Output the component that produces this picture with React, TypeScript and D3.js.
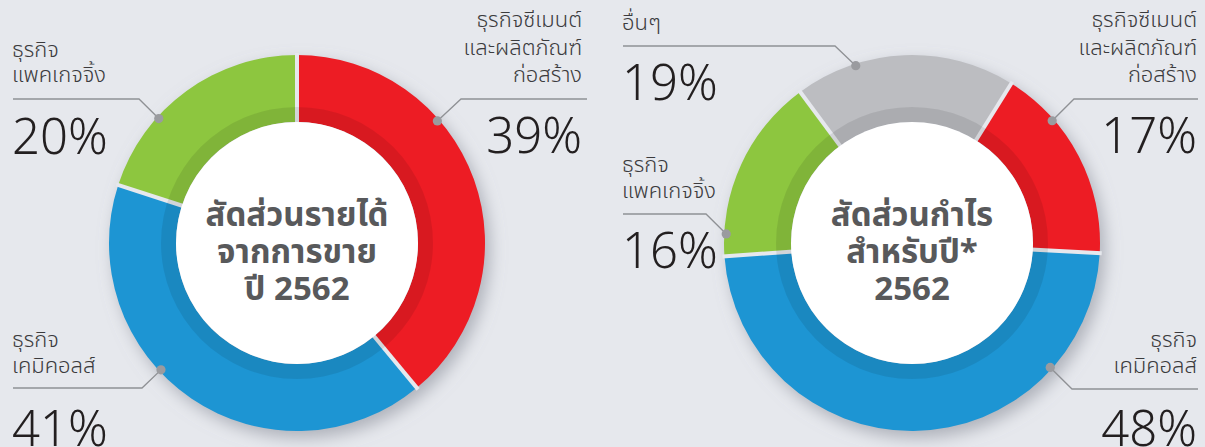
import React from 'react';
import * as d3 from 'd3';

// ---- data ----
const leftCategories = ['ธุรกิจซีเมนต์และผลิตภัณฑ์ก่อสร้าง', 'ธุรกิจเคมิคอลส์', 'ธุรกิจแพคเกจจิ้ง'];
const leftValues = [39, 41, 20];
const leftTitle = ['สัดส่วนรายได้', 'จากการขาย', 'ปี 2562'];

const rightCategories = ['อื่นๆ', 'ธุรกิจซีเมนต์และผลิตภัณฑ์ก่อสร้าง', 'ธุรกิจเคมิคอลส์', 'ธุรกิจแพคเกจจิ้ง'];
const rightValues = [19, 17, 48, 16];
const rightTitle = ['สัดส่วนกำไร', 'สำหรับปี*', '2562'];

const labelLines: Record<string, string[]> = {
  'ธุรกิจซีเมนต์และผลิตภัณฑ์ก่อสร้าง': ['ธุรกิจซีเมนต์', 'และผลิตภัณฑ์', 'ก่อสร้าง'],
  'ธุรกิจเคมิคอลส์': ['ธุรกิจ', 'เคมิคอลส์'],
  'ธุรกิจแพคเกจจิ้ง': ['ธุรกิจ', 'แพคเกจจิ้ง'],
  'อื่นๆ': ['อื่นๆ'],
};

const colorOf: Record<string, string> = {
  'ธุรกิจซีเมนต์และผลิตภัณฑ์ก่อสร้าง': '#ed1c24',
  'ธุรกิจเคมิคอลส์': '#1d95d3',
  'ธุรกิจแพคเกจจิ้ง': '#8dc63f',
  'อื่นๆ': '#bcbdc1',
};

// ---- layout ----
const W = 1205, H = 447;
const BG = '#e6e8ed';
const R_OUT = 188, R_BAND = 136, R_IN = 121;
const FONT = "'Noto Sans Thai', 'Noto Sans', 'DejaVu Sans', sans-serif";

type Ann = {
  dotAngle: number; // degrees clockwise from 12 o'clock
  elbow: [number, number];
  endX: number;
  anchor: 'start' | 'end';
  textX: number;
  baselines: number[];
  pctBaseline: number;
};

const leftAnn: Ann[] = [
  { dotAngle: 49, elbow: [461, 99], endX: 587, anchor: 'end', textX: 582, baselines: [27, 55, 82], pctBaseline: 153 },
  { dotAngle: 227, elbow: [142, 388], endX: 13, anchor: 'start', textX: 12, baselines: [347, 373], pctBaseline: 446 },
  { dotAngle: 312, elbow: [139, 99], endX: 13, anchor: 'start', textX: 12, baselines: [57, 82], pctBaseline: 154 },
];
const rightAnn: Ann[] = [
  { dotAngle: 342.4, elbow: [835, 46], endX: 623, anchor: 'start', textX: 622, baselines: [30], pctBaseline: 100 },
  { dotAngle: 48.9, elbow: [1074, 99], endX: 1198, anchor: 'end', textX: 1197, baselines: [27, 55, 82], pctBaseline: 153 },
  { dotAngle: 132, elbow: [1072, 389], endX: 1198, anchor: 'end', textX: 1197, baselines: [347, 373], pctBaseline: 446 },
  { dotAngle: 272.8, elbow: [706, 214], endX: 623, anchor: 'start', textX: 622, baselines: [172, 198], pctBaseline: 268 },
];

const rad = (d: number) => (d * Math.PI) / 180;

function Donut(props: {
  cx: number; cy: number; cats: string[]; vals: number[]; start: number; title: string[]; ann: Ann[];
}) {
  const { cx, cy, cats, vals, start, title, ann } = props;
  const pie = d3.pie<number>().sort(null).value((d) => d).startAngle(rad(start)).endAngle(rad(start + 360));
  const arcs = pie(vals);
  const arc = d3.arc<d3.PieArcDatum<number>>().innerRadius(R_IN).outerRadius(R_OUT);
  const band = d3.arc()({ innerRadius: R_IN, outerRadius: R_BAND, startAngle: 0, endAngle: Math.PI * 2 }) as string;
  return (
    <g>
      <g transform={`translate(${cx},${cy})`}>
        <circle r={R_OUT} fill="#c9ccd3" filter={`url(#shadow)`} />
        {arcs.map((a, i) => (
          <path key={i} d={arc(a) as string} fill={colorOf[cats[i]]} />
        ))}
        {arcs.map((a, i) => (
          <line
            key={'s' + i}
            x1={Math.sin(a.startAngle) * (R_IN - 2)}
            y1={-Math.cos(a.startAngle) * (R_IN - 2)}
            x2={Math.sin(a.startAngle) * (R_OUT + 2)}
            y2={-Math.cos(a.startAngle) * (R_OUT + 2)}
            stroke={BG}
            strokeWidth={4}
          />
        ))}
        <path d={band} fill="#000" opacity={0.085} />
        <circle r={R_IN} fill="#fff" />
        {title.map((t, i) => (
          <text
            key={'t' + i}
            x={0}
            y={-17 + i * 37}
            textAnchor="middle"
            fontFamily={FONT}
            fontWeight={700}
            fontSize={33}
            fill="#58595b"
          >
            {t}
          </text>
        ))}
      </g>
      {ann.map((an, i) => {
        const dx = cx + Math.sin(rad(an.dotAngle)) * 186;
        const dy = cy - Math.cos(rad(an.dotAngle)) * 186;
        const lines = labelLines[cats[i]];
        return (
          <g key={'a' + i}>
            <polyline
              points={`${dx},${dy} ${an.elbow[0]},${an.elbow[1]} ${an.endX},${an.elbow[1]}`}
              fill="none"
              stroke="#8f9195"
              strokeWidth={1.3}
            />
            <circle cx={dx} cy={dy} r={4.6} fill="#9a9b9f" />
            {lines.map((l, j) => (
              <text
                key={j}
                x={an.textX}
                y={an.baselines[j]}
                textAnchor={an.anchor}
                fontFamily={FONT}
                fontWeight={300}
                fontSize={22}
                fill="#3b3b3d"
              >
                {l}
              </text>
            ))}
            <text
              x={an.textX}
              y={an.pctBaseline}
              textAnchor={an.anchor}
              fontFamily={FONT}
              fontWeight={300}
              fontSize={49}
              fill="#231f20"
            >
              {vals[i]}%
            </text>
          </g>
        );
      })}
    </g>
  );
}

export default function App() {
  return (
    <svg
      width={W}
      height={H}
      style={{ position: 'absolute', left: 0, top: 0, background: BG, display: 'block' }}
    >
      <defs>
        <filter id="shadow" x="-20%" y="-20%" width="150%" height="150%">
          <feGaussianBlur in="SourceAlpha" stdDeviation="8" />
          <feOffset dx="5" dy="7" result="b" />
          <feFlood floodColor="#8a8e99" floodOpacity="0.6" />
          <feComposite in2="b" operator="in" />
        </filter>
      </defs>
      <rect width={W} height={H} fill={BG} />
      <Donut cx={297} cy={243} cats={leftCategories} vals={leftValues} start={0} title={leftTitle} ann={leftAnn} />
      <Donut cx={912} cy={243} cats={rightCategories} vals={rightValues} start={-36.5} title={rightTitle} ann={rightAnn} />
    </svg>
  );
}
